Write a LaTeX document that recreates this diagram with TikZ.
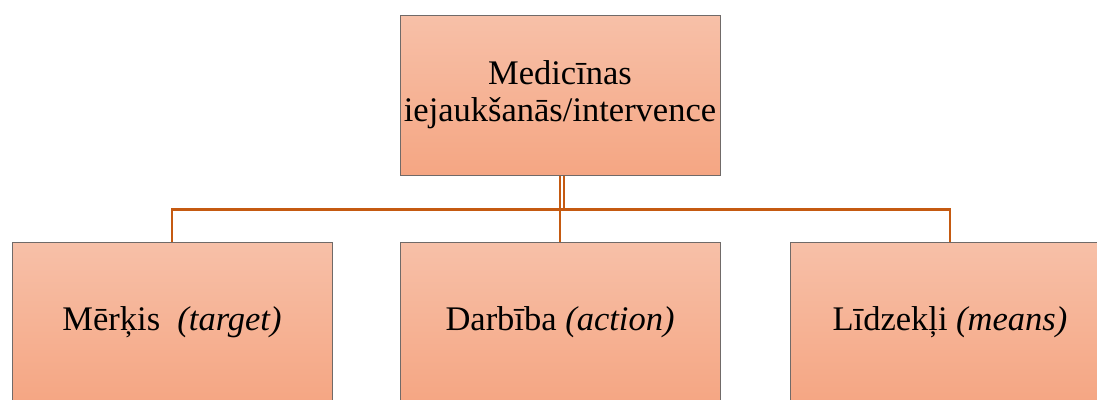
\documentclass[tikz,border=0pt]{standalone}
\usepackage{fontspec}
\setmainfont{Liberation Serif}
\definecolor{boxtop}{RGB}{247,192,168}
\definecolor{boxbottom}{RGB}{245,166,131}
\definecolor{boxedge}{RGB}{112,106,104}
\definecolor{linkcol}{RGB}{197,90,17}
\begin{document}
\begin{tikzpicture}[x=1pt,y=-1pt,
  box/.style={rectangle, draw=boxedge, line width=1pt,
    top color=boxtop, bottom color=boxbottom,
    minimum width=320pt, minimum height=160pt, inner sep=0pt,
    align=center, font=\fontsize{34.5}{37}\selectfont},
  link/.style={draw=linkcol, line width=2.6pt}]
\useasboundingbox (0,0) rectangle (1097,399);
\clip (0,0) rectangle (1097,399);

% parent
\node[box] (root) at (560,95) {Medicīnas\\iejaukšanās/intervence};

% children
\node[box] (target) at (172,322) {Mērķis~~\textit{(target)}};
\node[box] (action) at (560,322) {Darbība \textit{(action)}};
\node[box] (means)  at (950,322) {Līdzekļi \textit{(means)}};

% tree connectors
\draw[link] (root.south) -- (action.north);
\draw[link] ([xshift=4pt]root.south) -- ++(0,34) -| (target.north);
\draw[link] ([xshift=4pt]root.south) -- ++(0,34) -| (means.north);
\end{tikzpicture}
\end{document}
